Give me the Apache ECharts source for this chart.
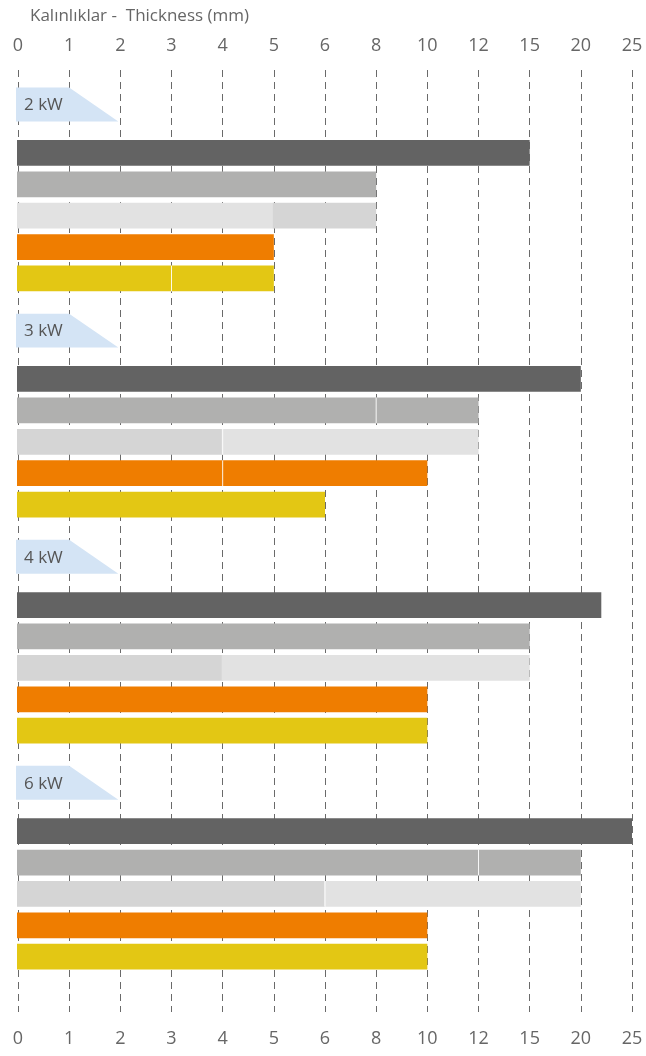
<!DOCTYPE html>
<html><head><meta charset="utf-8">
<script src="https://cdn.jsdelivr.net/npm/echarts@6/dist/echarts.min.js"></script>
<style>html,body{margin:0;padding:0;background:#fff}#c{width:646px;height:1056px}</style>
</head><body><div id="c"></div>
<script>
// ---- data ----
const tickLabels = [0, 1, 2, 3, 4, 5, 6, 8, 10, 12, 15, 20, 25];
const groups = ['2 kW', '3 kW', '4 kW', '6 kW'];
const darkValues   = [15, 20, 22, 25];
const grayValues   = [8, 12, 15, 20];
const graySplits   = [null, 8, null, 12];
const lightValues  = [8, 12, 15, 20];
const lightSplits  = [5, 4, 4, 6];
const orangeValues = [5, 10, 10, 10];
const orangeSplits = [null, 4, null, null];
const yellowValues = [5, 6, 10, 10];
const yellowSplits = [3, null, null, null];

// ---- styles / layout ----
const COLORS = { dark: '#636363', gray: '#B0B0AF', orange: '#EF7D00', yellow: '#E3C714' };
const LIGHT_A = '#E2E2E2', LIGHT_B = '#D5D5D5';
// segment colours of the light row: [first, second]
const lightSegColors = [[LIGHT_A, LIGHT_B], [LIGHT_B, LIGHT_A], [LIGHT_B, LIGHT_A], [LIGHT_B, LIGHT_A]];
const lightDivider = [false, true, false, true];
const FONT = '"Open Sans", Lato, sans-serif';
const TEXT = '#666';
const GROUP_PITCH = 7.2, TAG_ROW = 1.1, FIRST_BAR_ROW = 2.64;
const BAR_H = 0.82, TAG_H = 1.08;

// piecewise-linear mapping of a thickness (mm) to the evenly spaced tick index
function toPos(v) {
  for (let i = 1; i < tickLabels.length; i++) {
    if (v <= tickLabels[i]) {
      const a = tickLabels[i - 1], b = tickLabels[i];
      return i - 1 + (v - a) / (b - a);
    }
  }
  return tickLabels.length - 1;
}

const barData = [], dividerData = [], tagData = [];
const rows = [
  { vals: darkValues, splits: null, key: 'dark' },
  { vals: grayValues, splits: graySplits, key: 'gray' },
  { vals: lightValues, splits: lightSplits, key: 'light' },
  { vals: orangeValues, splits: orangeSplits, key: 'orange' },
  { vals: yellowValues, splits: yellowSplits, key: 'yellow' }
];
groups.forEach((g, gi) => {
  const base = gi * GROUP_PITCH;
  tagData.push({ value: [base + TAG_ROW], name: g });
  rows.forEach((r, k) => {
    const y = base + FIRST_BAR_ROW + k;
    const end = toPos(r.vals[gi]);
    const sp = r.splits ? r.splits[gi] : null;
    if (r.key === 'light') {
      const s = toPos(sp);
      barData.push({ value: [0, s, y], itemStyle: { color: lightSegColors[gi][0] } });
      barData.push({ value: [s, end, y], itemStyle: { color: lightSegColors[gi][1] } });
      if (lightDivider[gi]) dividerData.push([s, y]);
    } else {
      barData.push({ value: [0, end, y], itemStyle: { color: COLORS[r.key] } });
      if (sp != null) dividerData.push([toPos(sp), y]);
    }
  });
});

const chart = echarts.init(document.getElementById('c'), null, { renderer: 'canvas' });

const xAxisBase = {
  type: 'value', min: 0, max: tickLabels.length - 1, interval: 1,
  axisLine: { show: false }, axisTick: { show: false },
  axisLabel: {
    color: TEXT, fontSize: 18, fontFamily: FONT,
    formatter: v => String(tickLabels[v])
  }
};

chart.setOption({
  animation: false,
  title: {
    text: 'Kalınlıklar -  Thickness (mm)', left: 25, top: 3,
    textStyle: { color: TEXT, fontSize: 17, fontWeight: 'normal', fontFamily: FONT }
  },
  grid: { left: 18, right: 14, top: 70, bottom: 44 },
  xAxis: [
    Object.assign({}, xAxisBase, {
      position: 'top',
      axisLabel: Object.assign({}, xAxisBase.axisLabel, { margin: 15 }),
      splitLine: { show: true, lineStyle: { color: '#6a6a6a', width: 1, type: [7, 5] } }
    }),
    Object.assign({}, xAxisBase, {
      position: 'bottom',
      axisLabel: Object.assign({}, xAxisBase.axisLabel, { margin: 18 }),
      splitLine: { show: false }
    })
  ],
  yAxis: { type: 'value', inverse: true, min: 0, max: 30, show: false },
  series: [
    {
      type: 'custom', xAxisIndex: 0, data: barData,
      encode: { x: [0, 1], y: 2 },
      renderItem: (params, api) => {
        const p0 = api.coord([api.value(0), api.value(2)]);
        const p1 = api.coord([api.value(1), api.value(2)]);
        const h = api.size([0, BAR_H])[1];
        return {
          type: 'rect',
          shape: { x: p0[0] - 1, y: p0[1] - h / 2, width: p1[0] - p0[0] + 1, height: h },
          style: { fill: api.visual('color') }
        };
      }
    },
    {
      type: 'custom', xAxisIndex: 0, data: dividerData,
      encode: { x: 0, y: 1 },
      renderItem: (params, api) => {
        const p = api.coord([api.value(0), api.value(1)]);
        const h = api.size([0, BAR_H])[1];
        return {
          type: 'line',
          shape: { x1: p[0], y1: p[1] - h / 2, x2: p[0], y2: p[1] + h / 2 },
          style: { stroke: 'rgba(255,255,255,0.9)', lineWidth: 1 }
        };
      }
    },
    {
      type: 'custom', xAxisIndex: 0, data: tagData,
      encode: { y: 0 },
      renderItem: (params, api) => {
        const c = api.coord([0, api.value(0)]);
        const x1 = api.coord([1, api.value(0)])[0];
        const x2 = api.coord([2, api.value(0)])[0];
        const h = api.size([0, TAG_H])[1];
        const top = c[1] - h / 2, bot = c[1] + h / 2;
        const x0 = c[0] - 2;
        return {
          type: 'group',
          children: [
            { type: 'polygon', shape: { points: [[x0, top], [x1, top], [x2 - 2, bot], [x0, bot]] },
              style: { fill: '#D4E4F5' } },
            { type: 'text', x: x0 + 8, y: c[1] + 1,
              style: { text: groups[params.dataIndex], fill: '#555', fontSize: 17, fontFamily: FONT,
                       verticalAlign: 'middle', align: 'left' } }
          ]
        };
      }
    }
  ]
});
</script>
</body></html>
